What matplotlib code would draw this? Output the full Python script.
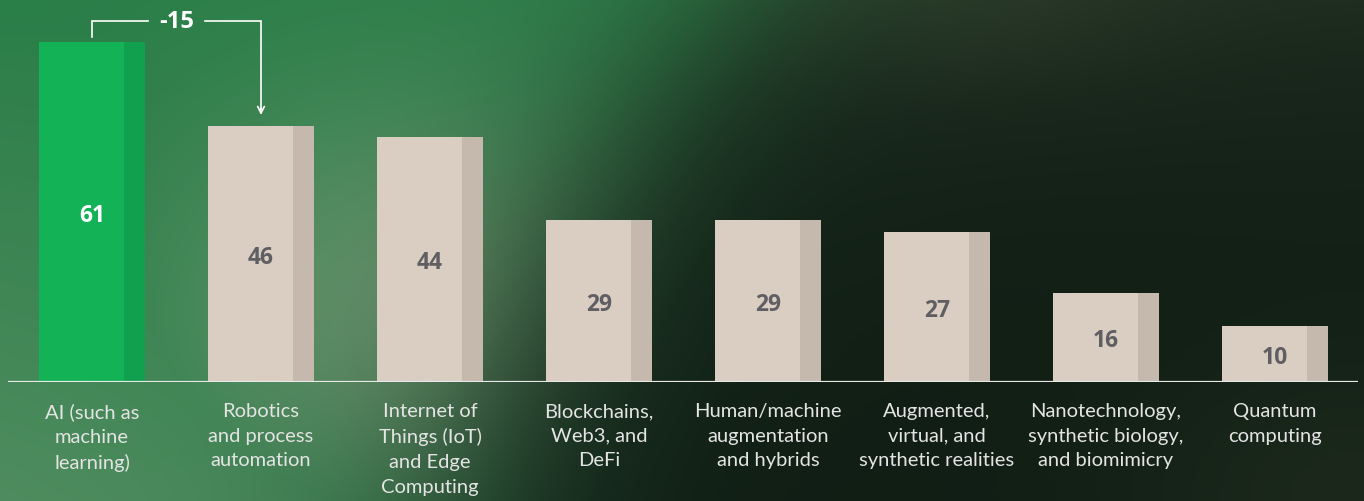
import numpy as np
import matplotlib
matplotlib.use("Agg")
import matplotlib.pyplot as plt
import matplotlib.transforms as mtransforms

categories = [
    "AI (such as\nmachine\nlearning)",
    "Robotics\nand process\nautomation",
    "Internet of\nThings (IoT)\nand Edge\nComputing",
    "Blockchains,\nWeb3, and\nDeFi",
    "Human/machine\naugmentation\nand hybrids",
    "Augmented,\nvirtual, and\nsynthetic realities",
    "Nanotechnology,\nsynthetic biology,\nand biomimicry",
    "Quantum\ncomputing",
]
values = [61, 46, 44, 29, 29, 27, 16, 10]
highlight = 0

W, H = 1364, 502
fig = plt.figure(figsize=(W / 100, H / 100), dpi=100)

# background gradient (green on the left, dark green on the right)
bg = fig.add_axes([0, 0, 1, 1], zorder=-5)
yy, xx = np.mgrid[0:H, 0:W].astype(float)
dark_base = np.array([0x10, 0x1d, 0x14]) / 255
dark_top = np.array([0x1f, 0x2d, 0x20]) / 255
dark = dark_base + (dark_top - dark_base) * np.exp(-yy / 160)[..., None]
glow = np.exp(-(((xx - 980) / 200) ** 2 + (yy / 100) ** 2))
dark = dark + glow[..., None] * np.array([0.035, 0.035, 0.025])
corner = np.exp(-(((xx - 1364) / 250) ** 2 + ((yy - 502) / 150) ** 2))
dark = dark + corner[..., None] * np.array([0.04, 0.04, 0.025])
green_a = np.array([0x2a, 0x7e, 0x48]) / 255
green_b = np.array([0x68, 0x96, 0x6e]) / 255
g = np.exp(-(((xx - 420) / 260) ** 2 + ((yy - 320) / 220) ** 2))
g = np.maximum(g, 0.6 * (yy / H) * (1 - xx / W))
green = green_a + (green_b - green_a) * g[..., None]
boundary = 730 - 0.85 * yy + 0.0006 * yy ** 2
w = 1 / (1 + np.exp((xx - boundary) / 75))
img = dark + (green - dark) * w[..., None]
bg.imshow(np.clip(img, 0, 1), extent=[0, W, H, 0], aspect="auto")
bg.axis("off")

# bar axes: baseline at y=383px, x from 8 to 1358px
pitch = 169
ax = fig.add_axes([8 / W, (H - 383) / H, 1350 / W, 383 / H])
ax.patch.set_alpha(0)
ax.set_xlim((8 - 92) / pitch, (1358 - 92) / pitch)
ax.set_ylim(0, 61 * 383 / 340)
ax.axis("off")

x = np.arange(len(values))
bar_w = 106 / pitch
front_w = 85 / pitch
front_cols = ["#13b257" if i == highlight else "#dacdc2" for i in x]
side_cols = ["#10a04e" if i == highlight else "#c5b8ad" for i in x]
ax.bar(x - bar_w / 2, values, width=front_w, align="edge", color=front_cols, zorder=2)
ax.bar(x - bar_w / 2 + front_w, values, width=bar_w - front_w, align="edge",
       color=side_cols, zorder=2)
ax.axhline(0, color="#e8e8e8", lw=1.6, zorder=3)

val_tr = mtransforms.offset_copy(ax.transData, fig=fig, y=-3, units="dots")
for i, v in zip(x, values):
    ax.text(i, v / 2, str(v), transform=val_tr, ha="center", va="center",
            fontsize=16.5, fontweight="bold", family=["Open Sans", "DejaVu Sans"],
            color="white" if i == highlight else "#5f5f63", zorder=4)

lab_tr = mtransforms.offset_copy(ax.get_xaxis_transform(), fig=fig, y=-20, units="dots")
for i, c in zip(x, categories):
    ax.text(i, 0, c, transform=lab_tr, ha="center", va="top", ma="center",
            fontsize=14.5, family=["Lato", "DejaVu Sans"],
            color="#e4e4e4", linespacing=1.55)

# difference bracket between the first two bars
top = values[0] + 3.8
mid = 0.5
gap = 0.17
ax.plot([0, 0, mid - gap], [values[0] + 0.9, top, top], color="white", lw=1.2,
        solid_joinstyle="miter", clip_on=False)
ax.plot([mid + gap, 1, 1], [top, top, values[1] + 3], color="white", lw=1.2,
        solid_joinstyle="miter", clip_on=False)
ax.annotate("", xy=(1, values[1] + 1.9), xytext=(1, values[1] + 3.2),
            arrowprops=dict(arrowstyle="->", color="white", lw=1.2,
                            mutation_scale=12, shrinkA=0, shrinkB=0))
ax.text(mid, top, f"{values[1] - values[0]}", ha="center", va="center",
        fontsize=17, fontweight="bold", family=["Open Sans", "DejaVu Sans"],
        color="white", clip_on=False)

fig.savefig("out.png", dpi=100)
